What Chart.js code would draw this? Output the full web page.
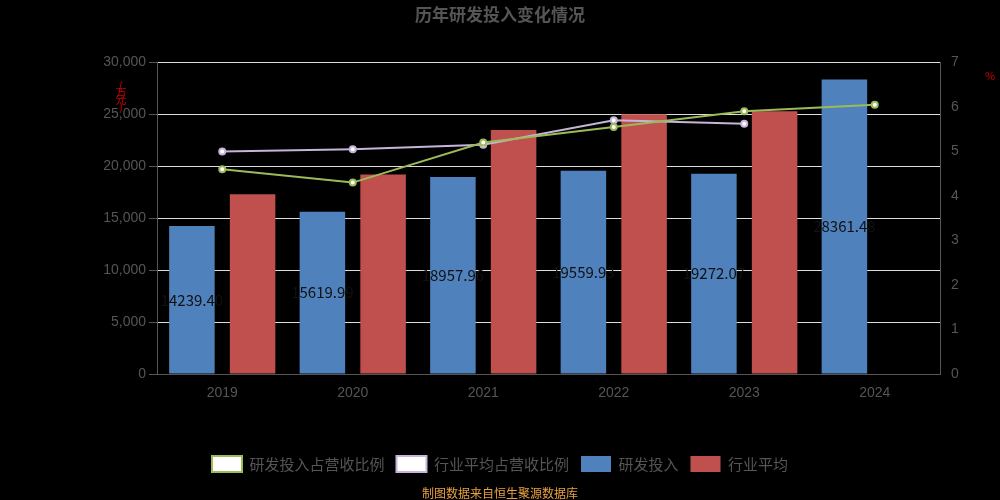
<!DOCTYPE html>
<html><head><meta charset="utf-8">
<script src="https://cdn.jsdelivr.net/npm/chart.js@4"></script>
<style>body{margin:0;background:#000}#w{width:1000px;height:500px;position:relative}</style>
</head><body><div id="w"><canvas id="c" width="1000" height="500"></canvas></div>
<script>
const years = ['2019','2020','2021','2022','2023','2024'];
const rd = [14239.40, 15619.99, 18957.96, 19559.93, 19272.07, 28361.48];
const rdRatio = [4.6, 4.3, 5.2, 5.55, 5.9, 6.05];
const indAvg = [17300, 19200, 23500, 25000, 25300, null];
const indRatio = [5.0, 5.05, 5.15, 5.7, 5.62, null];

// 柱内数值 + 单位文字
const extras = {
  id: 'extras',
  afterDatasetsDraw(chart) {
    const ctx = chart.ctx;
    const meta = chart.getDatasetMeta(0);
    ctx.save();
    ctx.font = '15px "Noto Sans CJK SC"';
    ctx.fillStyle = '#111';
    ctx.textAlign = 'center';
    ctx.textBaseline = 'middle';
    meta.data.forEach((b, i) => {
      ctx.fillText(rd[i].toFixed(2), b.x, (b.y + b.base) / 2);
    });
    ctx.fillStyle = '#c00';
    ctx.font = '11px "Noto Sans CJK SC"';
    ['(', '万', '元', ')'].forEach((t, i) => ctx.fillText(t, 121, 86 + i * 7));
    ctx.fillText('%', 990, 76);
    ctx.fillStyle = '#e8a040';
    ctx.font = '12px "Noto Sans CJK SC"';
    ctx.fillText('制图数据来自恒生聚源数据库', 500, 493);
    ctx.restore();
  }
};

new Chart(document.getElementById('c'), {
  data: {
    labels: years,
    datasets: [
      {type: 'bar', label: '研发投入', data: rd, backgroundColor: '#4f81bd', yAxisID: 'y', order: 2, barPercentage: 0.75, categoryPercentage: 0.93},
      {type: 'line', label: '研发投入占营收比例', data: rdRatio, borderColor: '#9bbb59', backgroundColor: '#fff', pointRadius: 3, borderWidth: 2, yAxisID: 'y1', order: 1},
      {type: 'bar', label: '行业平均', data: indAvg, backgroundColor: '#c0504d', yAxisID: 'y', order: 2, barPercentage: 0.75, categoryPercentage: 0.93},
      {type: 'line', label: '行业平均占营收比例', data: indRatio, borderColor: '#c5b5d8', backgroundColor: '#fff', pointRadius: 3, borderWidth: 2, yAxisID: 'y1', order: 1}
    ]
  },
  options: {
    responsive: false, animation: false,
    layout: {padding: {left: 10, right: 10, top: 0, bottom: 18}},
    plugins: {
      title: {display: true, text: '历年研发投入变化情况', color: '#555', font: {size: 17, weight: 'bold', family: '"Noto Sans CJK SC"'}, padding: {top: 4, bottom: 38}},
      legend: {position: 'bottom', labels: {color: '#555', font: {size: 15, family: '"Noto Sans CJK SC"'}, boxWidth: 30, boxHeight: 16, padding: 12}},
      tooltip: {enabled: false}
    },
    scales: {
      x: {grid: {display: false}, border: {color: '#555'}, ticks: {color: '#555', font: {size: 14}, maxRotation: 0}, afterFit(s) { s.height = 70; }},
      y: {min: 0, max: 30000, ticks: {stepSize: 5000, color: '#555', font: {size: 14}}, grid: {color: '#ddd', tickColor: '#555'}, border: {color: '#555'}, afterFit(s) { s.width = 147; }},
      y1: {position: 'right', min: 0, max: 7, ticks: {stepSize: 1, color: '#555', font: {size: 14}}, grid: {display: false}, border: {color: '#555'}, afterFit(s) { s.width = 50; }}
    }
  },
  plugins: [extras]
});
</script></body></html>
